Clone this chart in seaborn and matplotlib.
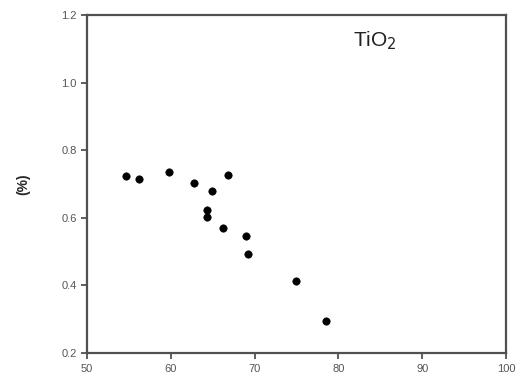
import matplotlib
matplotlib.use("Agg")
import matplotlib.pyplot as plt
import seaborn as sns
import pandas as pd

# Measured TiO2 content against the x variable
x_values = [54.6, 56.2, 59.8, 62.8, 64.9, 64.3, 64.3, 66.8, 66.2, 69.0, 69.2, 74.9, 78.5]
y_values = [0.724, 0.715, 0.735, 0.703, 0.679, 0.623, 0.602, 0.727, 0.570, 0.546, 0.493, 0.413, 0.295]

x_ticks = [50, 60, 70, 80, 90, 100]
y_ticks = [0.2, 0.4, 0.6, 0.8, 1.0, 1.2]

df = pd.DataFrame({"x": x_values, "y": y_values})

sns.set_style("ticks")
plt.rcParams["font.family"] = ["Liberation Sans", "DejaVu Sans"]

fig = plt.figure(figsize=(5.18, 3.83), dpi=100)
ax = fig.add_axes([0.168, 0.078, 0.809, 0.883])

sns.scatterplot(data=df, x="x", y="y", ax=ax, color="black", s=28,
                edgecolor="black", linewidth=0.5, legend=False)

ax.set_xlim(50, 100)
ax.set_ylim(0.2, 1.2)
ax.set_xticks(x_ticks)
ax.set_yticks(y_ticks)
ax.set_xticklabels([str(t) for t in x_ticks])
ax.set_yticklabels([f"{t:.1f}" for t in y_ticks])
ax.tick_params(axis="both", direction="out", length=4, width=1.2,
               colors="#444444", labelsize=8, labelcolor="#555555")

for side in ["left", "right", "top", "bottom"]:
    ax.spines[side].set_visible(True)
    ax.spines[side].set_color("#505050")
    ax.spines[side].set_linewidth(1.6)

ax.set_xlabel("")
ax.set_ylabel("(%)", fontsize=10, fontweight="bold", labelpad=22)

ax.text(0.635, 0.925, r"TiO$_2$", transform=ax.transAxes, fontsize=15,
        ha="left", va="center", color="#222222")

fig.savefig("out.png", dpi=100)
